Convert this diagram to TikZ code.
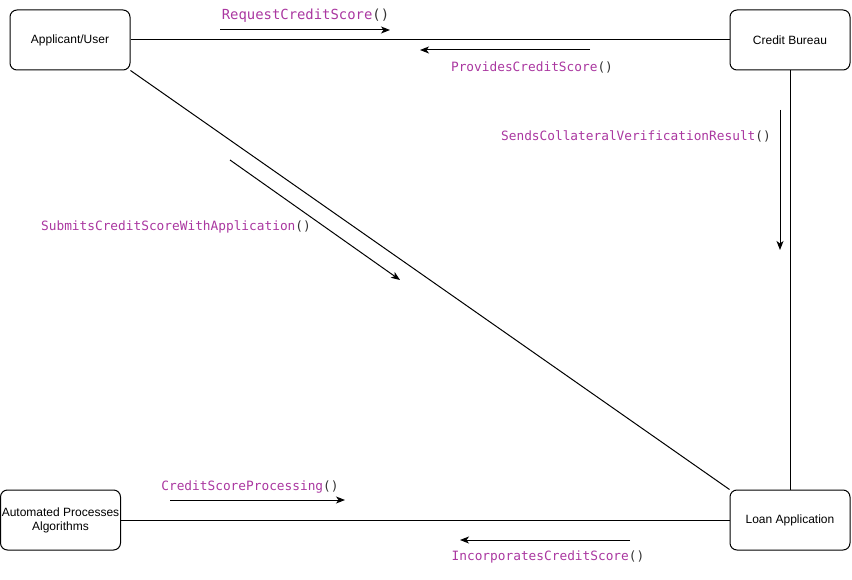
\documentclass[tikz,border=0pt]{standalone}
\usepackage{fontspec}
\setmainfont{Liberation Sans}
\setmonofont{DejaVu Sans Mono}
\usetikzlibrary{arrows.meta}

\definecolor{methcol}{RGB}{170,55,160}
\definecolor{parcol}{RGB}{51,51,51}
\newcommand{\meth}[1]{{\color{methcol}#1}{\color{parcol}()}}

\begin{document}
\begin{tikzpicture}[x=1pt,y=-1pt,line width=1pt,
		actor/.style={draw, rounded corners=7pt, minimum width=120pt, minimum height=60pt,
			inner xsep=0pt, align=center, font=\fontsize{12}{14}\selectfont},
		msg/.style={font=\ttfamily\fontsize{12.8}{15}\selectfont, inner sep=0pt},
		flow/.style={-{Stealth[length=9pt,width=7pt,inset=2.5pt]}}]
		\useasboundingbox (0,0) rectangle (852,580);

		% actors
		\node[actor] (user) at (70,40) {Applicant/User};
		\node[actor] (bureau) at (790,40) {Credit Bureau};
		\node[actor] (algo) at (60.5,520) {Automated Processes\\Algorithms};
		\node[actor] (loan) at (790,520) {Loan Application};

		% links
		\draw (user) -- (bureau);
		\draw (user.south east) -- (loan.north west);
		\draw (bureau) -- (loan);
		\draw (algo) -- (loan);

		% messages
		\coordinate (r1) at (220,30); \coordinate (r2) at (390,30);
		\draw[flow] (r1) -- (r2);
		\node[msg, font=\ttfamily\fontsize{13.9}{16}\selectfont] (req) at (305.5,16) {\meth{RequestCreditScore}};

		\coordinate (p1) at (590,50); \coordinate (p2) at (420,50);
		\draw[flow] (p1) -- (p2);
		\node[msg] (prov) at (532,67) {\meth{ProvidesCreditScore}};

		\coordinate (s1) at (780,110); \coordinate (s2) at (780,250);
		\draw[flow] (s1) -- (s2);
		\node[msg] (sends) at (636,136) {\meth{SendsCollateralVerificationResult}};

		\coordinate (a1) at (230,160); \coordinate (a2) at (400,280);
		\draw[flow] (a1) -- (a2);
		\node[msg] (submit) at (176,227) {\meth{SubmitsCreditScoreWithApplication}};

		\coordinate (c1) at (170,500); \coordinate (c2) at (345,500);
		\draw[flow] (c1) -- (c2);
		\node[msg] (proc) at (250,487) {\meth{CreditScoreProcessing}};

		\coordinate (i1) at (630,540); \coordinate (i2) at (460,540);
		\draw[flow] (i1) -- (i2);
		\node[msg] (inc) at (548,557) {\meth{IncorporatesCreditScore}};
\end{tikzpicture}
\end{document}
